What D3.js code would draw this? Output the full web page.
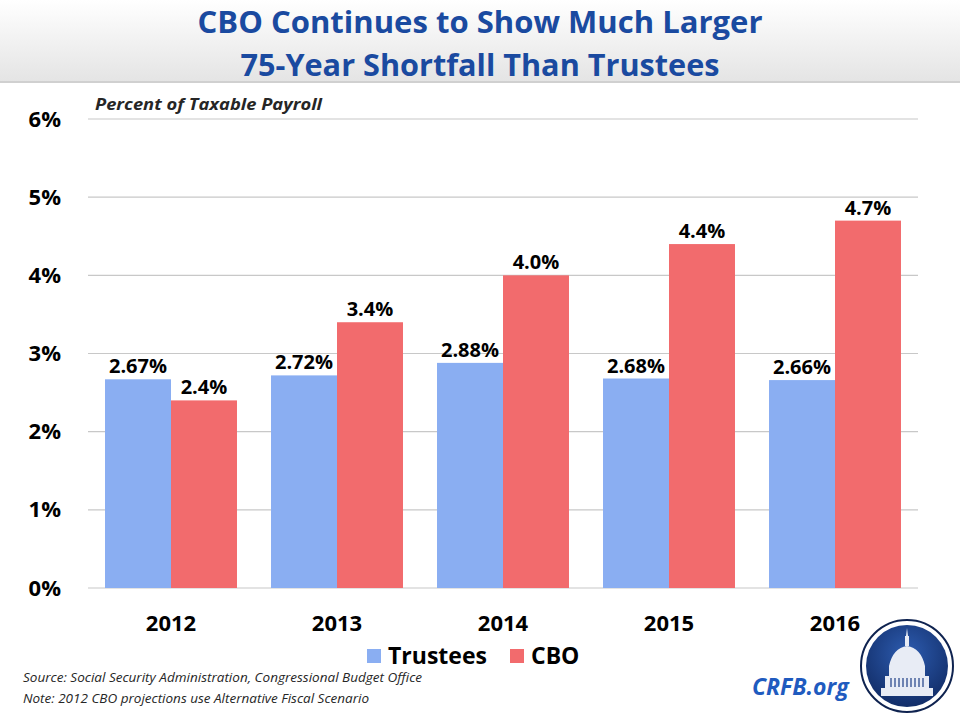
<!DOCTYPE html>
<html>
<head>
<meta charset="utf-8">
<script src="https://cdn.jsdelivr.net/npm/d3@7"></script>
<style>
  body { margin: 0; background: #fff; }
  svg { display: block; font-family: "Open Sans", "DejaVu Sans", sans-serif; }
</style>
</head>
<body>
<svg width="960" height="720"></svg>
<script>
var years = ["2012", "2013", "2014", "2015", "2016"]
var trustees = [2.67, 2.72, 2.88, 2.68, 2.66]
var cbo = [2.4, 3.4, 4.0, 4.4, 4.7]
var trusteeLabels = ["2.67%", "2.72%", "2.88%", "2.68%", "2.66%"]
var cboLabels = ["2.4%", "3.4%", "4.0%", "4.4%", "4.7%"]
var yTicks = [0, 1, 2, 3, 4, 5, 6]
var seriesNames = ["Trustees", "CBO"]
var colors = ["#8AAEF2", "#F26B6D"]

const svg = d3.select("svg")

// header band
const defs = svg.append("defs")
const grad = defs.append("linearGradient").attr("id", "hdr").attr("x1", 0).attr("y1", 0).attr("x2", 0).attr("y2", 1)
grad.append("stop").attr("offset", "0%").attr("stop-color", "#ffffff")
grad.append("stop").attr("offset", "100%").attr("stop-color", "#e4e4e4")
const logoGrad = defs.append("radialGradient").attr("id", "logo").attr("cx", "50%").attr("cy", "35%").attr("r", "70%")
logoGrad.append("stop").attr("offset", "0%").attr("stop-color", "#2d5cb0")
logoGrad.append("stop").attr("offset", "100%").attr("stop-color", "#102a63")

svg.append("rect").attr("x", 0).attr("y", 0).attr("width", 960).attr("height", 82).attr("fill", "url(#hdr)")
svg.append("line").attr("x1", 0).attr("x2", 960).attr("y1", 82).attr("y2", 82).attr("stroke", "#d0d0d0").attr("stroke-width", 2)

// title, two lines stretched to the reference widths
var titleLines = ["CBO Continues to Show Much Larger", "75-Year Shortfall Than Trustees"]
var titleWidths = [565, 479]
svg.append("g").selectAll("text").data(titleLines).enter().append("text")
  .attr("x", (d, i) => 480 - titleWidths[i] / 2).attr("y", (d, i) => 33 + i * 43)
  .attr("textLength", (d, i) => titleWidths[i]).attr("lengthAdjust", "spacingAndGlyphs")
  .text(d => d)
  .attr("fill", "#1A4AA0").style("font-weight", "bold").style("font-size", "31px")

const M = { left: 88, right: 918, top: 119, bottom: 588 }

const x = d3.scaleBand().domain(years).range([M.left, M.right]).paddingInner(0.205).paddingOuter(0.1025)
const xs = d3.scaleBand().domain(seriesNames).range([0, x.bandwidth()])
const y = d3.scaleLinear().domain([0, 6]).range([M.bottom, M.top])

// gridlines
svg.append("g").selectAll("line").data(yTicks).enter().append("line")
  .attr("x1", M.left).attr("x2", M.right)
  .attr("y1", d => y(d)).attr("y2", d => y(d))
  .attr("stroke", "#c8c8c8").attr("stroke-width", 1.2)

// y axis labels
const yAxis = svg.append("g").attr("transform", `translate(${M.left - 24},0)`)
  .call(d3.axisLeft(y).tickValues(yTicks).tickFormat(d => d + "%").tickSize(0))
yAxis.select(".domain").remove()
yAxis.selectAll("text").attr("fill", "#000").style("font-size", "22px").style("font-weight", "bold")
  .style("font-family", "'Open Sans', sans-serif")

svg.append("text").attr("x", 95).attr("y", 110).text("Percent of Taxable Payroll")
  .attr("fill", "#262626").style("font-size", "16.5px").style("font-style", "italic").style("font-weight", "bold")
  .attr("textLength", 227).attr("lengthAdjust", "spacingAndGlyphs")

// bars
const data = years.map((yr, i) => ({ year: yr, vals: [
  { s: "Trustees", v: trustees[i], label: trusteeLabels[i] },
  { s: "CBO", v: cbo[i], label: cboLabels[i] }] }))

const groups = svg.append("g").selectAll(".grp").data(data).enter().append("g")
  .attr("transform", d => `translate(${x(d.year)},0)`)

groups.selectAll("rect").data(d => d.vals).enter().append("rect")
  .attr("x", d => xs(d.s)).attr("width", xs.bandwidth())
  .attr("y", d => y(d.v)).attr("height", d => y(0) - y(d.v))
  .attr("fill", (d, i) => colors[i])

groups.selectAll(".lbl").data(d => d.vals).enter().append("text")
  .attr("x", d => xs(d.s) + xs.bandwidth() / 2).attr("y", d => y(d.v) - 6)
  .attr("text-anchor", "middle").text(d => d.label)
  .attr("fill", "#000").style("font-size", "20px").style("font-weight", "bold")

// x axis labels
const xAxis = svg.append("g").attr("transform", `translate(0,${M.bottom + 24})`)
  .call(d3.axisBottom(x).tickSize(0))
xAxis.select(".domain").remove()
xAxis.selectAll("text").attr("fill", "#000").style("font-size", "22px").style("font-weight", "bold")
  .style("font-family", "'Open Sans', sans-serif")

// legend
const legX = [367, 510]
const leg = svg.append("g").selectAll("g").data(seriesNames).enter().append("g")
  .attr("transform", (d, i) => `translate(${legX[i]},649)`)
leg.append("rect").attr("width", 14).attr("height", 14).attr("fill", (d, i) => colors[i])
leg.append("text").attr("x", 21).attr("y", 15).text(d => d)
  .attr("fill", "#000").style("font-size", "23px").style("font-weight", "bold")

// source notes
svg.append("text").attr("x", 23).attr("y", 682).text("Source: Social Security Administration, Congressional Budget Office")
  .attr("fill", "#262626").style("font-size", "13.5px").style("font-style", "italic")
  .attr("textLength", 399).attr("lengthAdjust", "spacingAndGlyphs")
svg.append("text").attr("x", 23).attr("y", 703).text("Note: 2012  CBO projections use Alternative Fiscal Scenario")
  .attr("fill", "#262626").style("font-size", "13.5px").style("font-style", "italic")
  .attr("textLength", 346).attr("lengthAdjust", "spacingAndGlyphs")

svg.append("text").attr("x", 752).attr("y", 695).text("CRFB.org")
  .attr("fill", "#1F5BBF").style("font-size", "23px").style("font-style", "italic").style("font-weight", "bold")

// logo
const logo = svg.append("g").attr("transform", "translate(907,666)")
logo.append("circle").attr("r", 46).attr("fill", "#fff").attr("stroke", "#0f2350").attr("stroke-width", 2)
logo.append("circle").attr("r", 41).attr("fill", "url(#logo)")
logo.append("path").attr("d", "M-26,30 L26,30 L26,22 L22,22 L22,10 L18,10 L18,0 Q14,-18 0,-20 Q-14,-18 -18,0 L-18,10 L-22,10 L-22,22 L-26,22 Z")
  .attr("fill", "#e8ecf5")
logo.append("path").attr("d", "M-2,-20 L-2,-30 L2,-30 L2,-20 Z M-1,-30 L0,-38 L1,-30 Z").attr("fill", "#e8ecf5")
logo.selectAll(".col").data(d3.range(-16, 17, 4)).enter().append("line")
  .attr("x1", d => d).attr("x2", d => d).attr("y1", 12).attr("y2", 21)
  .attr("stroke", "#1d3f85").attr("stroke-width", 1.2)
</script>
</body>
</html>
